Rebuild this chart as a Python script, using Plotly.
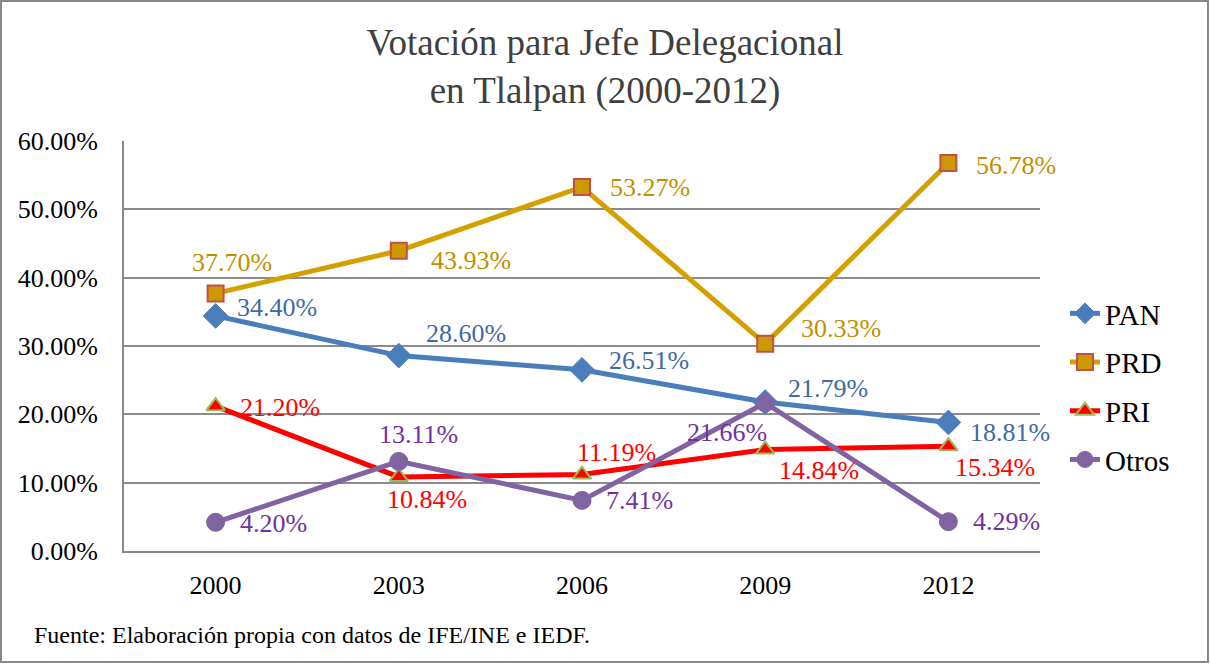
import plotly.graph_objects as go

years = ["2000", "2003", "2006", "2009", "2012"]
pan = [34.40, 28.60, 26.51, 21.79, 18.81]
prd = [37.70, 43.93, 53.27, 30.33, 56.78]
pri = [21.20, 10.84, 11.19, 14.84, 15.34]
otros = [4.20, 13.11, 7.41, 21.66, 4.29]
y_ticks = [0, 10, 20, 30, 40, 50, 60]
y_tick_labels = ["0.00%", "10.00%", "20.00%", "30.00%", "40.00%", "50.00%", "60.00%"]

W, H = 1210, 664
ML, MR, MT, MB = 124, 170, 141, 113
PW, PH = W - ML - MR, H - MT - MB

FONT = "'Liberation Serif', 'Times New Roman', serif"

series = [
    dict(name="PAN", y=pan, line="#4A7EBB", label="#3F6AA3",
         marker=dict(symbol="diamond", size=19, color="#4A7EBB", line=dict(color="#4A7EBB", width=1)),
         offs=[(61, -8), (67, -22), (67, -9), (63, -14), (62, 10)]),
    dict(name="PRD", y=prd, line="#D4A000", label="#BF8F00",
         marker=dict(symbol="square", size=16, color="#CC9900", line=dict(color="#C0504D", width=2)),
         offs=[(16, -31), (72, 10), (68, 1), (76, -15), (68, 2)]),
    dict(name="PRI", y=pri, line="#FF0000", label="#FF0000",
         marker=dict(symbol="triangle-up", size=16, color="#FF0000", line=dict(color="#9BBB59", width=2)),
         offs=[(64, 1), (28, 23), (34, -22), (54, 21), (47, 21)]),
    dict(name="Otros", y=otros, line="#8064A2", label="#7030A0",
         marker=dict(symbol="circle", size=18, color="#8064A2", line=dict(color="#8064A2", width=1)),
         offs=[(58, 1), (20, -27), (57, 0), (-38, 30), (58, 0)]),
]

fig = go.Figure()
annotations = []
for s in series:
    fig.add_trace(go.Scatter(
        x=years, y=s["y"], name=s["name"], mode="lines+markers",
        line=dict(color=s["line"], width=5),
        marker=s["marker"], legendgroup=s["name"],
    ))
    for idx, (v, (dx, dy)) in enumerate(zip(s["y"], s["offs"])):
        annotations.append(dict(
            x=idx, y=v, xref="x", yref="y", text=f"{v:.2f}%", showarrow=False,
            xanchor="center", yanchor="middle",
            xshift=dx, yshift=-dy, font=dict(family=FONT, size=26, color=s["label"]),
        ))

annotations.append(dict(
    text="Fuente: Elaboración propia con datos de IFE/INE e IEDF.",
    xref="paper", yref="paper", x=(32 - ML) / PW, y=-(635 - MT - PH) / PH,
    xanchor="left", yanchor="middle", showarrow=False,
    font=dict(family=FONT, size=24, color="#000000"),
))

fig.update_layout(
    width=W, height=H,
    margin=dict(l=ML, r=MR, t=MT, b=MB),
    paper_bgcolor="white", plot_bgcolor="white",
    title=dict(text="Votación para Jefe Delegacional<br>en Tlalpan (2000-2012)",
               x=0.5, xanchor="center", xref="container",
               y=1 - 55 / H, yanchor="middle", yref="container",
               font=dict(family=FONT, size=37, color="#404040")),
    xaxis=dict(type="category", range=[-0.5, 4.5], showgrid=False,
               showline=True, linecolor="#888888", linewidth=2,
               ticks="", tickfont=dict(family=FONT, size=26, color="#000000"),
               ticklabelstandoff=10),
    yaxis=dict(range=[0, 60], tickvals=y_ticks, ticktext=y_tick_labels,
               showgrid=True, gridcolor="#8C8C8C", gridwidth=2,
               showline=True, linecolor="#888888", linewidth=2, zeroline=False,
               ticks="", tickfont=dict(family=FONT, size=26, color="#000000"),
               ticklabelstandoff=19),
    legend=dict(x=(1065 - ML) / PW, y=1 - (288 - MT) / PH, xanchor="left", yanchor="top",
                font=dict(family=FONT, size=29, color="#000000"),
                traceorder="grouped", tracegroupgap=8, bgcolor="rgba(0,0,0,0)"),
    annotations=annotations,
    shapes=[dict(type="rect", xref="paper", yref="paper",
                 x0=-(ML - 1) / PW, x1=(W - 2 - ML) / PW,
                 y0=-(MB - 2) / PH, y1=1 + (MT - 1) / PH,
                 line=dict(color="#888888", width=2))],
)

fig.write_html("out.html", config={"displayModeBar": False},
               post_script="document.body.style.margin='0';document.body.style.overflow='hidden';")
